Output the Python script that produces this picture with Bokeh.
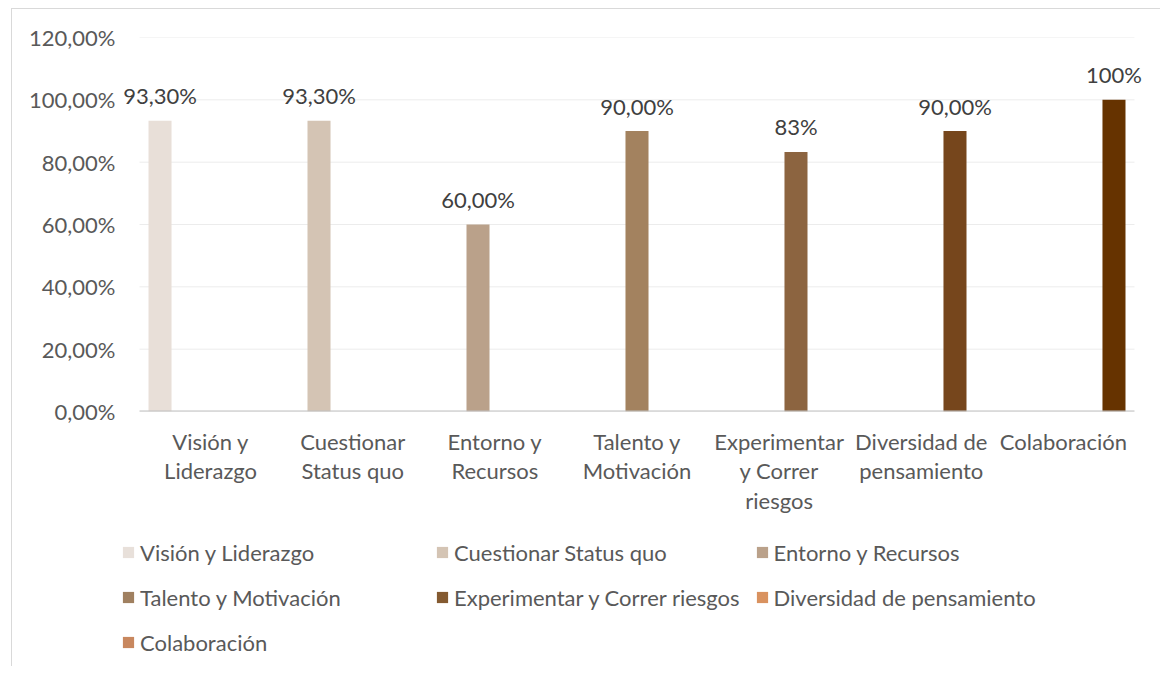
from bokeh.plotting import figure
from bokeh.layouts import column
from bokeh.models import (FactorRange, Range1d, FixedTicker, CustomJSTickFormatter,
                          ColumnDataSource, Legend, LegendItem, LabelSet)
from bokeh.transform import dodge
from bokeh.core.properties import value
from bokeh.embed import file_html
from bokeh.resources import INLINE

# ---- data ----
categories = ["Visión y Liderazgo", "Cuestionar Status quo", "Entorno y Recursos",
              "Talento y Motivación", "Experimentar y Correr riesgos",
              "Diversidad de pensamiento", "Colaboración"]
tick_labels = ["Visión y\nLiderazgo", "Cuestionar\nStatus quo", "Entorno y\nRecursos",
               "Talento y\nMotivación", "Experimentar\ny Correr\nriesgos",
               "Diversidad de\npensamiento", "Colaboración"]
values = [0.933, 0.933, 0.60, 0.90, 0.833, 0.90, 1.00]
value_labels = ["93,30%", "93,30%", "60,00%", "90,00%", "83%", "90,00%", "100%"]
y_ticks = [0.0, 0.2, 0.4, 0.6, 0.8, 1.0, 1.2]
bar_colors = ["#E8DFD8", "#D4C4B4", "#BAA18A", "#A3825F", "#8C6440", "#76461C", "#663300"]
legend_colors = ["#E8E0DA", "#D4C4B4", "#BAA18A", "#A08060", "#845A30", "#D9925F", "#C8875E"]

FONT = "Lato"
FS = "22px"
TXT = "#595959"

xr = FactorRange(factors=tick_labels, range_padding=0.169, range_padding_units="absolute")
p = figure(x_range=xr, y_range=Range1d(0, 1.2),
           width=1148, height=522, output_backend="svg", toolbar_location=None,
           min_border_left=103, min_border_right=2, min_border_top=28, min_border_bottom=120)
p.outline_line_color = None
p.background_fill_color = "white"
p.border_fill_color = "white"

# gridlines spanning the category band only
gsrc = ColumnDataSource(dict(y=y_ticks, a=[tick_labels[0]] * len(y_ticks),
                             b=[tick_labels[-1]] * len(y_ticks)))
p.segment(x0=dodge("a", -0.5, range=p.x_range), x1=dodge("b", 0.5, range=p.x_range),
          y0="y", y1="y", source=gsrc, line_color="#ececec", line_width=1)

n = len(categories)
slot = 0.1186
bar_w = 0.162
for i in range(n):
    src = ColumnDataSource(dict(cat=[tick_labels[i]], val=[values[i]], lbl=[value_labels[i]]))
    off = (i - (n - 1) / 2) * slot
    p.vbar(x=dodge("cat", off, range=p.x_range), top="val", width=bar_w, bottom=0,
           source=src, fill_color=bar_colors[i], line_color=None)
    p.add_layout(LabelSet(x=dodge("cat", off, range=p.x_range), y="val", text="lbl", source=src,
                          text_align="center", text_baseline="middle", y_offset=25,
                          text_font=value(FONT), text_font_size=value(FS),
                          text_color="#404040"))

# category axis baseline
bsrc = ColumnDataSource(dict(y=[y_ticks[0]], a=[tick_labels[0]], b=[tick_labels[-1]]))
p.segment(x0=dodge("a", -0.5, range=p.x_range), x1=dodge("b", 0.5, range=p.x_range),
          y0="y", y1="y", source=bsrc, line_color="#bfbfbf", line_width=2)

# y axis
p.yaxis.ticker = FixedTicker(ticks=y_ticks)
p.yaxis.formatter = CustomJSTickFormatter(code="return (tick*100).toFixed(2).replace('.', ',') + '%';")
p.yaxis.axis_line_color = None
p.yaxis.major_tick_line_color = None
p.yaxis.major_tick_out = 0
p.yaxis.minor_tick_line_color = None
p.yaxis.major_label_standoff = 0
p.yaxis.major_label_text_font = FONT
p.yaxis.major_label_text_font_size = FS
p.yaxis.major_label_text_color = TXT

# x axis
p.xaxis.axis_line_color = None
p.xaxis.major_tick_line_color = None
p.xaxis.major_tick_out = 0
p.xaxis.minor_tick_line_color = None
p.xaxis.major_label_standoff = 16
p.xaxis.major_label_text_font = FONT
p.xaxis.major_label_text_font_size = FS
p.xaxis.major_label_text_color = TXT
p.xaxis.major_label_text_line_height = 1.1
p.xaxis.major_label_orientation = "horizontal"

p.xgrid.grid_line_color = None
p.ygrid.grid_line_color = None

# ---- legend figure ----
pl = figure(x_range=Range1d(0, 1), y_range=Range1d(0, 1), width=1148, height=135,
            output_backend="svg", toolbar_location=None,
            min_border_left=0, min_border_right=0, min_border_top=0, min_border_bottom=0)
pl.axis.visible = False
pl.grid.visible = False
pl.outline_line_color = None
items = []
for i in range(n):
    r = pl.vbar(x=[values[i]], top=[0.0], width=0, fill_color=legend_colors[i], line_color=None)
    items.append(LegendItem(label=categories[i], renderers=[r], index=0))
legend = Legend(items=items, ncols=3, orientation="horizontal", location=(6, 9),
                glyph_width=14, glyph_height=14, label_height=30, label_width=280,
                label_standoff=5, spacing=15, padding=0, margin=0,
                border_line_color=None, background_fill_alpha=0,
                label_text_font=FONT, label_text_font_size=FS, label_text_color=TXT)
pl.add_layout(legend, "center")

layout = column(p, pl, spacing=0)
layout.margin = (8, 0, 0, 11)
layout.styles = {"border-top": "1px solid #d9d9d9", "border-left": "1px solid #d9d9d9"}

open("out.html", "w").write(file_html(layout, INLINE))
